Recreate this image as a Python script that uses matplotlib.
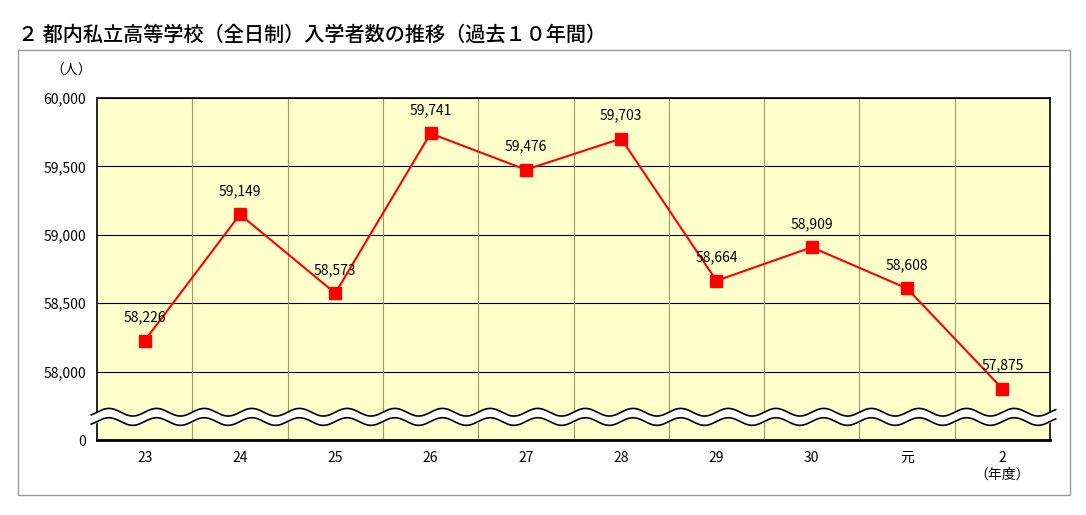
import matplotlib.pyplot as plt
import numpy as np
from matplotlib.patches import Rectangle

plt.rcParams['font.family'] = ['Noto Sans CJK JP', 'DejaVu Sans']

years = ["23", "24", "25", "26", "27", "28", "29", "30", "元", "2"]
students = [58226, 59149, 58573, 59741, 59476, 59703, 58664, 58909, 58608, 57875]
ytick_vals = [57500, 58000, 58500, 59000, 59500, 60000]
ytick_labels = ["0", "58,000", "58,500", "59,000", "59,500", "60,000"]

fig = plt.figure(figsize=(10.86, 5.15), dpi=100)
fig.patches.append(Rectangle((18 / 1086, 20 / 515), 1052 / 1086, 445 / 515,
                             transform=fig.transFigure, fill=False, edgecolor="#999999", linewidth=1))
fig.text(18 / 1086, 1 - 35 / 515, "２ 都内私立高等学校（全日制）入学者数の推移（過去１０年間）",
         fontsize=14.5, fontweight="medium", va="center", ha="left")

ax = fig.add_axes([97 / 1086, 75 / 515, 953 / 1086, 342 / 515])
ax.set_facecolor("#FFFFCC")
x = np.arange(len(years))
ax.set_xlim(-0.5, len(years) - 0.5)
ax.set_ylim(57500, 60000)
ax.set_yticks(ytick_vals)
ax.set_yticklabels(ytick_labels, fontsize=10)
ax.set_xticks(x)
ax.set_xticklabels(years, fontsize=10)
ax.tick_params(length=0, pad=8)
ax.grid(axis="y", color="black", linewidth=0.8)
for xv in np.arange(0.5, len(years) - 0.5):
    ax.axvline(xv, color="#999966", linewidth=0.8)
for s in ax.spines.values():
    s.set_linewidth(1.2)
ax.spines["bottom"].set_linewidth(2)

# wavy break
wx = np.linspace(-0.56, len(years) - 0.44, 800)
wy = 57669 + 28 * np.sin(2 * np.pi * wx / 0.5)
ax.fill_between(wx, wy - 34, wy + 34, color="white", clip_on=False, zorder=3)
ax.plot(wx, wy + 34, color="black", linewidth=1.2, clip_on=False, zorder=4)
ax.plot(wx, wy - 34, color="black", linewidth=1.2, clip_on=False, zorder=4)

ax.plot(x, students, color="#FF0000", linewidth=1.5, marker="s", markersize=8, zorder=5)
for xi, v in zip(x, students):
    ax.text(xi, v + 120, f"{v:,}", ha="center", va="bottom", fontsize=10, zorder=6)

ax.text(-0.55, 60150, "（人）", ha="right", va="bottom", fontsize=10)
ax.text(9, 57500 - 200, "（年度）", ha="center", va="top", fontsize=10)

fig.savefig("out.png", dpi=100)
